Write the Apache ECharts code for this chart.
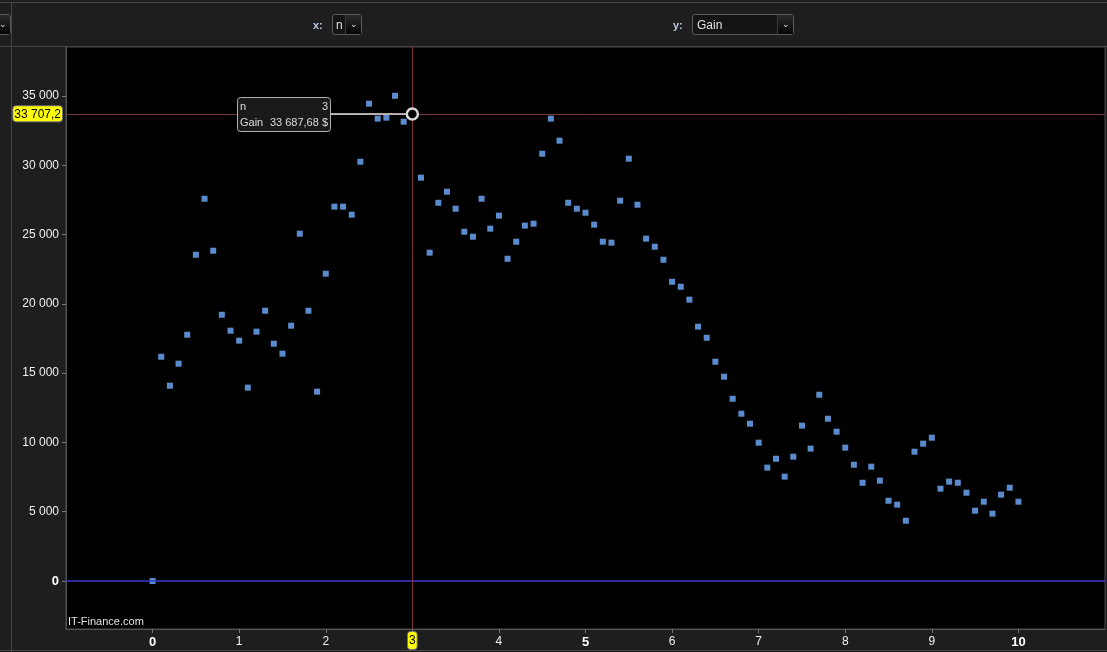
<!DOCTYPE html>
<html>
<head>
<meta charset="utf-8">
<script src="https://cdn.jsdelivr.net/npm/echarts@6/dist/echarts.min.js"></script>
<style>
  html, body { margin: 0; padding: 0; background: #1e1e1e; overflow: hidden; }
  #wrap { position: relative; width: 1107px; height: 652px; background: #1e1e1e; font-family: "Liberation Sans", Arial, sans-serif; }
  #chart { position: absolute; left: 0; top: 0; width: 1107px; height: 652px; }
  .hl { position: absolute; background: #454545; }
  .lbl { position: absolute; color: #b9c9e0; font-weight: bold; font-size: 11px; top: 19px; }
  .dd { position: absolute; top: 14px; height: 21px; border: 1px solid #5a5a5a; border-radius: 3px; background: #141414; box-sizing: border-box; }
  .dd .txt { position: absolute; left: 4px; top: 3px; color: #e0e0e0; font-size: 12px; }
  .dd .chev { position: absolute; right: 0; top: 0; width: 15px; height: 19px; border-left: 1px solid #3a3a3a; background: linear-gradient(#2a2a2a, #050505); color: #ddd; font-size: 9px; text-align: center; line-height: 19px; }
</style>
</head>
<body>
<div id="wrap">
  <div id="chart"></div>
  <div class="hl" style="left:0;top:2px;width:1107px;height:1px;"></div>
  <div class="hl" style="left:0;top:46px;width:1107px;height:1px;"></div>
  <div class="hl" style="left:11px;top:2px;width:1px;height:650px;"></div>
  <div class="hl" style="left:0;top:650px;width:1107px;height:1px;"></div>
  <div class="dd" style="left:-20px;width:31px;"><div class="chev">&#8964;</div></div>
  <div class="lbl" style="left:313px;">x:</div>
  <div class="dd" style="left:332px;width:30px;"><div class="txt" style="left:3px;">n</div><div class="chev">&#8964;</div></div>
  <div class="lbl" style="left:673px;">y:</div>
  <div class="dd" style="left:692px;width:102px;"><div class="txt">Gain</div><div class="chev">&#8964;</div></div>
</div>
<script>
var nValues = [0,0.1,0.2,0.3,0.4,0.5,0.6,0.7,0.8,0.9,1,1.1,1.2,1.3,1.4,1.5,1.6,1.7,1.8,1.9,2,2.1,2.2,2.3,2.4,2.5,2.6,2.7,2.8,2.9,3,3.1,3.2,3.3,3.4,3.5,3.6,3.7,3.8,3.9,4,4.1,4.2,4.3,4.4,4.5,4.6,4.7,4.8,4.9,5,5.1,5.2,5.3,5.4,5.5,5.6,5.7,5.8,5.9,6,6.1,6.2,6.3,6.4,6.5,6.6,6.7,6.8,6.9,7,7.1,7.2,7.3,7.4,7.5,7.6,7.7,7.8,7.9,8,8.1,8.2,8.3,8.4,8.5,8.6,8.7,8.8,8.9,9,9.1,9.2,9.3,9.4,9.5,9.6,9.7,9.8,9.9,10];
var gainValues = [0,16180,14090,15680,17770,23540,27580,23830,19210,18060,17340,13950,17990,19500,17120,16400,18420,25060,19500,13660,22170,27010,27010,26430,30250,34440,33360,33430,35010,33140,33687.68,29100,23690,27290,28090,26860,25200,24840,27580,25420,26360,23250,24480,25640,25780,30830,33360,31770,27290,26860,26570,25710,24480,24410,27440,30470,27150,24700,24120,23180,21590,21230,20300,18350,17550,15820,14740,13150,12070,11350,9980,8180,8820,7530,8970,11210,9550,13440,11710,10770,9620,8390,7090,8250,7240,5790,5510,4350,9330,9910,10340,6660,7170,7090,6370,5070,5720,4860,6230,6730,5720];
var xTicks = [0,1,2,3,4,5,6,7,8,9,10];
var xMajor = [0,5,10];
var yTicks = [0,5000,10000,15000,20000,25000,30000,35000];
var selIndex = 30;
var cursorX = 3;
var cursorY = 33707.2;

function fmtThousands(v) {
  var s = String(Math.round(v));
  return s.replace(/\B(?=(\d{3})+(?!\d))/g, ' ');
}
function fmtDec(v, d) {
  var parts = v.toFixed(d).split('.');
  return fmtThousands(Number(parts[0])) + ',' + parts[1];
}

var points = nValues.map(function (n, i) { return [n, gainValues[i]]; });

var chart = echarts.init(document.getElementById('chart'), null, { renderer: 'canvas' });
var font = '"Liberation Sans", Arial, sans-serif';
var pointerLine = { color: '#7c3434', width: 1, type: 'solid' };
chart.setOption({
  animation: false,
  backgroundColor: '#1e1e1e',
  tooltip: { show: true, trigger: 'none', showContent: false },
  grid: { left: 66, right: 2, top: 47, bottom: 23, show: true, backgroundColor: '#000', borderColor: '#4a4a4a', borderWidth: 1 },
  xAxis: {
    type: 'value', min: -1, max: 11, interval: 1,
    axisLine: { show: true, onZero: false, lineStyle: { color: '#555' } },
    axisTick: { show: true, length: 4, lineStyle: { color: '#777' }, customValues: xTicks },
    splitLine: { show: false },
    axisLabel: {
      margin: 7, color: '#f0f0f0', fontFamily: font, fontSize: 12,
      customValues: xTicks,
      formatter: function (v) { return xMajor.indexOf(v) >= 0 ? '{b|' + v + '}' : String(v); },
      rich: { b: { fontWeight: 'bold', fontSize: 13, color: '#ffffff', fontFamily: font } }
    },
    axisPointer: {
      show: true, status: 'show', value: cursorX, type: 'line', triggerTooltip: false,
      lineStyle: pointerLine,
      label: { show: true, formatter: function (p) { return String(Math.round(p.value)); },
        backgroundColor: '#ffff00', color: '#000', borderColor: '#777', borderWidth: 1,
        padding: [3, 1, 2, 1], margin: 3, fontSize: 12, fontFamily: font }
    }
  },
  yAxis: {
    type: 'value', min: -3463, max: 38528, minInterval: 5000, maxInterval: 5000,
    axisLine: { show: true, onZero: false, lineStyle: { color: '#555' } },
    axisTick: { show: true, length: 4, lineStyle: { color: '#777' }, customValues: yTicks },
    splitLine: { show: false },
    axisLabel: {
      margin: 7, color: '#f0f0f0', fontFamily: font, fontSize: 12,
      customValues: yTicks,
      formatter: function (v) { return v === 0 ? '{b|0}' : fmtThousands(v); },
      rich: { b: { fontWeight: 'bold', fontSize: 13, color: '#ffffff', fontFamily: font } }
    },
    axisPointer: {
      show: true, status: 'show', value: cursorY, type: 'line', triggerTooltip: false,
      lineStyle: pointerLine,
      label: { show: true, formatter: function (p) { return fmtDec(p.value, 1); },
        backgroundColor: '#ffff00', color: '#000', borderColor: '#777', borderWidth: 1,
        padding: [2, 1, 1, 1], margin: 4, fontSize: 12, fontFamily: font }
    }
  },
  series: [
    {
      type: 'scatter', symbol: 'rect', symbolSize: 6, data: points,
      itemStyle: { color: '#70aeff' },
      emphasis: { disabled: true },
      markLine: {
        silent: true, symbol: 'none', label: { show: false },
        lineStyle: { color: '#3a3ad0', width: 1.5, type: 'solid' },
        data: [{ yAxis: 0 }]
      },
      z: 3
    }
  ]
});

var p = chart.convertToPixel({ gridIndex: 0 }, points[selIndex]);
var bx = Math.round(p[0]) - 175, by = Math.round(p[1]) - 17, bw = 93, bh = 34;
chart.setOption({
  graphic: [
    { type: 'line', z: 100, shape: { x1: bx + bw, y1: p[1], x2: p[0] - 6, y2: p[1] }, style: { stroke: '#e0e0e0', lineWidth: 1.5 } },
    { type: 'circle', z: 101, shape: { cx: p[0], cy: p[1], r: 5.5 }, style: { fill: '#000', stroke: '#d8d8d8', lineWidth: 2.5 } },
    { type: 'rect', z: 102, shape: { x: bx + 0.5, y: by + 0.5, width: bw, height: bh, r: 3 }, style: { fill: '#1a1a1a', stroke: '#b0b0b0', lineWidth: 1 } },
    { type: 'text', z: 103, x: bx + 3, y: by + 10, style: { text: 'n', fill: '#dcdcdc', font: '11px ' + font, textVerticalAlign: 'middle' } },
    { type: 'text', z: 103, x: bx + bw - 2, y: by + 10, style: { text: String(nValues[selIndex]), fill: '#dcdcdc', font: '11px ' + font, textAlign: 'right', textVerticalAlign: 'middle' } },
    { type: 'text', z: 103, x: bx + 3, y: by + 26, style: { text: 'Gain', fill: '#dcdcdc', font: '11px ' + font, textVerticalAlign: 'middle' } },
    { type: 'text', z: 103, x: bx + bw - 2, y: by + 26, style: { text: fmtDec(gainValues[selIndex], 2) + ' $', fill: '#dcdcdc', font: '11px ' + font, textAlign: 'right', textVerticalAlign: 'middle' } },
    { type: 'text', z: 103, left: 68, top: 616, style: { text: 'IT-Finance.com', fill: '#e0e0e0', font: '11px ' + font } }
  ]
});
</script>
</body>
</html>
